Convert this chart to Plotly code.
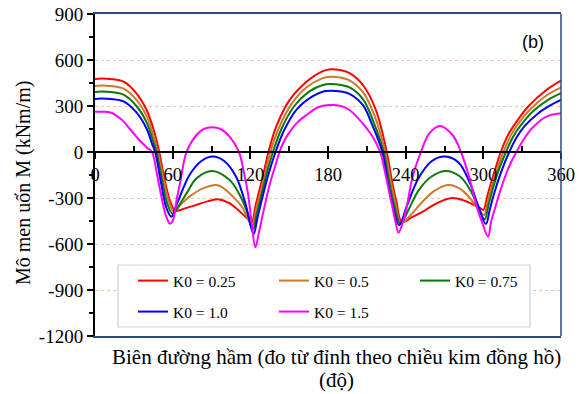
import plotly.graph_objects as go

# ---------------- data ----------------
series_names = ["K0 = 0.25", "K0 = 0.5", "K0 = 0.75", "K0 = 1.0", "K0 = 1.5"]
series_colors = ["#FF0000", "#D0782A", "#0B780B", "#0000FF", "#FF00FF"]
series_legend = ["legend", "legend", "legend", "legend2", "legend2"]

ang_k025 = [0, 5, 12, 22, 32, 40, 46, 49.6, 54, 58, 62, 70, 78, 87, 96, 104, 112, 118, 121,
            124, 128, 131, 134, 140, 150, 163, 176, 182, 190, 197, 207, 217, 225.4, 229, 233,
            237, 245, 255, 265, 276, 285, 292, 297, 300, 303, 306, 310, 313.5, 319, 325, 335,
            348, 360]
m_k025 = [476, 480, 476, 459, 383, 272, 125, 0, -190, -320, -383, -366, -346, -322, -309, -335,
          -389, -437, -459, -350, -215, -110, 0, 165, 335, 455, 527, 540, 533, 513, 437, 274, 0,
          -170, -330, -456, -425, -380, -330, -300, -316, -343, -362, -378, -290, -200, -90, 0,
          110, 190, 300, 400, 465]

ang_k05 = [0, 5, 12, 22, 32, 40, 45, 48.5, 53, 57, 61, 66, 73, 83.5, 95, 106.6, 114.3, 118,
           121.5, 124.5, 128.5, 132, 135.5, 142, 152, 164, 176, 182, 190, 197, 207, 216, 224.2,
           228, 232, 236.5, 245, 253, 263, 273.7, 283, 290, 296, 300.5, 303.5, 306.5, 311,
           315.5, 321, 327, 337, 349, 360]
m_k05 = [430, 433, 430, 413, 340, 232, 110, 0, -180, -320, -389, -345, -291, -237, -217, -291,
         -367, -435, -481, -375, -240, -125, 0, 155, 315, 425, 482, 491, 485, 466, 390, 235, 0,
         -170, -330, -465, -400, -324, -248, -215, -245, -305, -370, -411, -320, -225, -105, 0,
         105, 185, 285, 370, 422]

ang_k075 = [0, 5, 12, 22, 32, 40, 44, 47.5, 52, 56, 60, 64, 70.7, 78.4, 90.6, 104, 111.8, 117,
            122, 125, 129, 133, 137.5, 144, 154, 166, 176, 182, 190, 197, 207, 215, 223, 227,
            231, 236, 242, 250, 260, 271, 282, 290, 296, 301, 304, 307, 312, 317.5, 323, 329,
            339, 350, 360]
m_k075 = [391, 394, 391, 374, 300, 192, 95, 0, -190, -340, -404, -360, -270, -172, -124, -183,
          -280, -378, -504, -400, -265, -130, 0, 150, 300, 397, 437, 443, 437, 420, 345, 200, 0,
          -180, -340, -470, -380, -250, -160, -124, -160, -250, -360, -439, -345, -250, -115, 0,
          100, 175, 270, 340, 383]

ang_k10 = [0, 5, 12, 22, 32, 40, 44, 46.5, 51, 55, 59, 63, 73, 82, 91, 100, 109, 116, 122.5,
           125.5, 129.5, 134, 139.5, 146, 156, 168, 177, 182, 190, 197, 207, 214, 222, 226, 230,
           235, 241, 250, 260, 270.6, 281, 290, 296, 302, 305, 308, 314, 320, 326, 332, 342,
           352, 360]
m_k10 = [346, 349, 346, 330, 258, 150, 55, 0, -200, -360, -422, -345, -150, -60, -30, -60, -161,
         -330, -535, -430, -290, -145, 0, 140, 280, 363, 396, 400, 394, 378, 305, 180, 0, -190,
         -350, -478, -350, -170, -60, -30, -70, -210, -350, -470, -375, -280, -125, 0, 100, 170,
         250, 305, 339]

ang_k15 = [0, 6, 12, 20, 28, 34, 40, 44, 48, 52, 55, 57.8, 60, 63, 66, 70.7, 78.4, 84, 90.7, 97,
           104, 111.2, 115, 118.2, 121, 123.9, 126.5, 129.8, 135, 140, 142.5, 146, 150.3, 156,
           163.2, 172, 181, 190, 196.6, 206.8, 214.5, 220.3, 225, 229, 232, 234.4, 237, 240.3,
           245.4, 251.8, 258.3, 266.5, 276.2, 282.7, 289, 294.2, 299.3, 303.7, 306, 309.6, 313,
           317.3, 321.5, 325.6, 331, 338, 348, 360]
m_k15 = [262, 263, 258, 215, 140, 80, 30, 0, -150, -320, -420, -467, -450, -313, -190, 0, 111,
         150, 161, 150, 100, 0, -130, -270, -460, -622, -530, -400, -210, -70, 0, 70, 130, 190,
         240, 290, 306, 300, 274, 187, 100, 0, -170, -330, -450, -526, -480, -378, -161, 0, 122,
         170, 111, 0, -161, -335, -465, -552, -455, -350, -255, -150, -65, 0, 80, 158, 228, 252]

angles = [ang_k025, ang_k05, ang_k075, ang_k10, ang_k15]
moments = [m_k025, m_k05, m_k075, m_k10, m_k15]

x_ticks = [0, 60, 120, 180, 240, 300, 360]
y_ticks = [900, 600, 300, 0, -300, -600, -900, -1200]

serif = "Liberation Serif, Times New Roman, serif"
navy = "#2E4A7D"
Y_MIN, Y_MAX = -1200, 900
zero_pos = (0 - Y_MIN) / (Y_MAX - Y_MIN)

# layout geometry (pixels)
W, H = 580, 394
ML, MR, MT, MB = 95, 19, 14, 58
PW, PH = W - ML - MR, H - MT - MB


def px_x(p):
    return (p - ML) / PW


def px_y(p):
    return (H - MB - p) / PH


fig = go.Figure()
for name, col, lg, a, m in zip(series_names, series_colors, series_legend, angles, moments):
    fig.add_trace(go.Scatter(x=a, y=m, mode="lines", name=name, legend=lg,
                             line=dict(color=col, width=2, shape="spline", smoothing=1.0)))

legend_common = dict(orientation="h", xanchor="left", yanchor="middle",
                     bgcolor="rgba(0,0,0,0)", borderwidth=0,
                     font=dict(family=serif, size=15.5),
                     entrywidth=96, entrywidthmode="pixels")

fig.update_layout(
    width=W, height=H,
    margin=dict(l=ML, r=MR, t=MT, b=MB),
    paper_bgcolor="white", plot_bgcolor="white",
    font=dict(family=serif, size=18, color="black"),
    showlegend=True,
    legend=dict(x=px_x(133), y=px_y(281), **legend_common),
    legend2=dict(x=px_x(133), y=px_y(312), **legend_common),
    xaxis=dict(range=[0, 360], showline=True, linecolor=navy, linewidth=1.5, mirror=True,
               showgrid=False, zeroline=False, showticklabels=False, ticks="",
               automargin=False),
    xaxis2=dict(range=[0, 360], overlaying="x", anchor="free", position=zero_pos,
                side="bottom", showline=True, linecolor="black", linewidth=2,
                tickmode="array", tickvals=x_ticks, ticktext=[str(v) for v in x_ticks],
                ticks="outside", ticklen=6, tickwidth=2, tickcolor="black",
                showgrid=False, zeroline=False, automargin=False,
                tickfont=dict(family=serif, size=18.5)),
    xaxis3=dict(range=[0, 360], overlaying="x", anchor="free", position=zero_pos,
                side="bottom", showline=False, tickmode="linear", tick0=0, dtick=30,
                ticks="inside", ticklen=6, tickwidth=1.5, tickcolor="black",
                showticklabels=False, showgrid=False, zeroline=False, automargin=False),
    yaxis=dict(range=[Y_MIN, Y_MAX], tickmode="array", tickvals=y_ticks,
               ticktext=[str(v) for v in y_ticks], showline=True, linecolor="black",
               linewidth=2, ticks="outside", ticklen=6, tickwidth=1.5, tickcolor="black",
               minor=dict(dtick=150, tick0=0, ticks="outside", ticklen=4, tickcolor="black",
                          showgrid=False),
               showgrid=True, gridcolor="#F6C4A4", griddash="dot", gridwidth=1,
               zeroline=False, automargin=False, tickfont=dict(family=serif, size=19)),
)

# invisible helper traces so the overlay axes get drawn
fig.add_trace(go.Scatter(x=[0, 360], y=[0, 0], xaxis="x2", mode="lines",
                         line=dict(width=0), showlegend=False, hoverinfo="skip"))
fig.add_trace(go.Scatter(x=[0, 360], y=[0, 0], xaxis="x3", mode="lines",
                         line=dict(width=0), showlegend=False, hoverinfo="skip"))

# right frame line
fig.add_shape(type="line", xref="paper", yref="paper", x0=1, x1=1, y0=0, y1=1,
              line=dict(color=navy, width=1.5))
# legend box
fig.add_shape(type="rect", xref="paper", yref="paper", x0=px_x(118), x1=px_x(530),
              y0=px_y(327), y1=px_y(265), layer="above",
              line=dict(color="#C9D2E6", width=1.2), fillcolor="white")

fig.add_annotation(text="Mô men uốn M (kNm/m)", xref="paper", yref="paper",
                   x=px_x(23), y=px_y(183), xanchor="center", yanchor="middle",
                   textangle=-90, showarrow=False,
                   font=dict(family=serif, size=20, color="black"))
fig.add_annotation(text="(b)", xref="paper", yref="paper", x=px_x(533), y=px_y(42),
                   xanchor="center", yanchor="middle",
                   showarrow=False, font=dict(family="Liberation Sans", size=18, color="black"))
fig.add_annotation(text="Biên đường hầm (đo từ đỉnh theo chiều kim đồng hồ)",
                   xref="paper", yref="paper", x=px_x(336), y=px_y(357), xanchor="center",
                   yanchor="middle", showarrow=False,
                   font=dict(family=serif, size=21, color="black"))
fig.add_annotation(text="(độ)",
                   xref="paper", yref="paper", x=px_x(336), y=px_y(380), xanchor="center",
                   yanchor="middle", showarrow=False,
                   font=dict(family=serif, size=21, color="black"))

fig.write_html("out.html")
